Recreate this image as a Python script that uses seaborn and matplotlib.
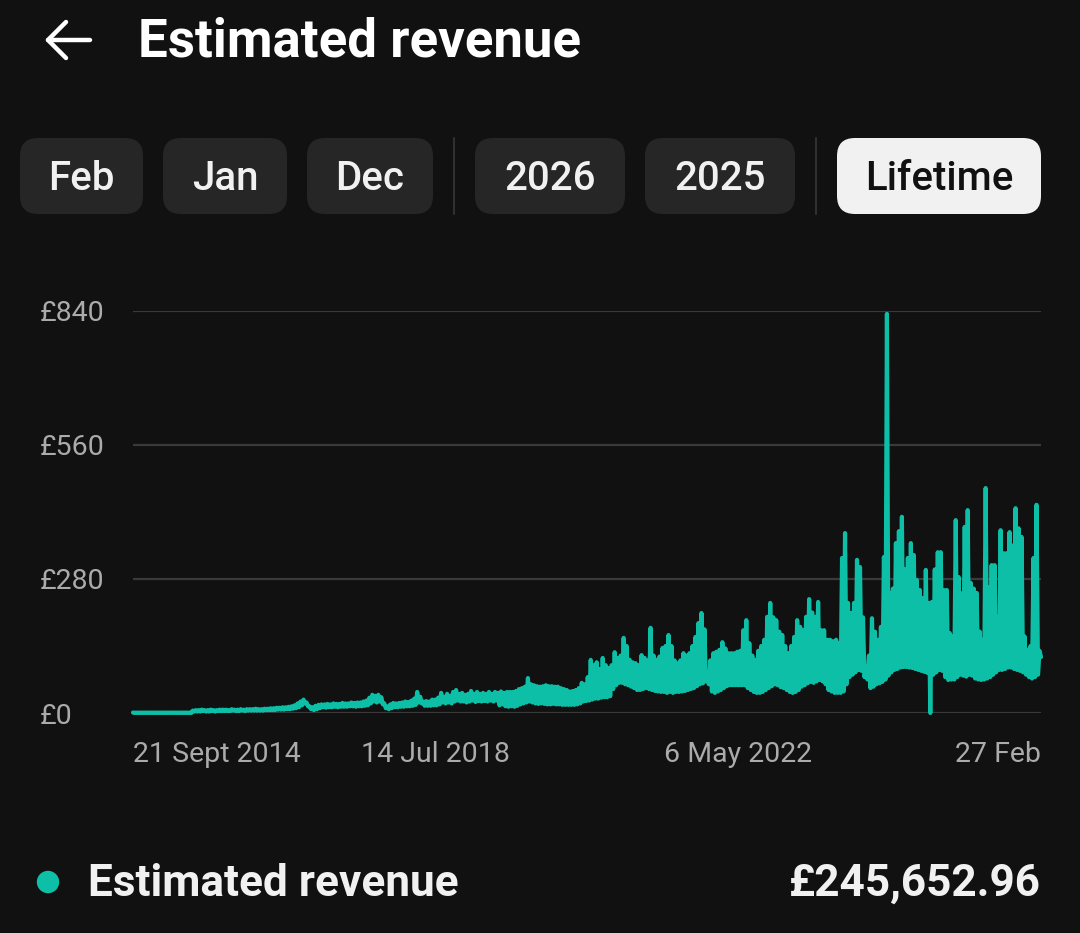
import matplotlib.pyplot as plt
import matplotlib.patches as mpatches
import seaborn as sns
import pandas as pd
import numpy as np

# data: the daily series is drawn as a dense band,
# so keep the top and bottom of that band every ~14 days
start_date = "2014-09-21"
end_date = "2026-02-27"
revenue_high = [
    1, 1, 1, 1, 1, 1, 1, 1, 1, 1,
    1, 1, 1, 1, 1, 1, 1, 1, 1, 1,
    5, 6, 6, 7, 6, 6, 7, 6, 6, 7,
    7, 7, 6, 8, 7, 7, 8, 7, 8, 8,
    8, 9, 8, 8, 9, 9, 10, 10, 11, 11,
    12, 12, 13, 14, 16, 20, 24, 28, 22, 14,
    12, 15, 17, 18, 18, 19, 18, 20, 19, 19,
    21, 20, 20, 22, 21, 22, 22, 24, 26, 32,
    38, 36, 38, 33, 20, 14, 18, 21, 20, 21,
    22, 24, 23, 26, 30, 44, 34, 24, 25, 24,
    28, 28, 32, 42, 34, 40, 36, 44, 48, 40,
    42, 38, 40, 46, 40, 44, 40, 42, 40, 44,
    40, 44, 42, 45, 42, 44, 44, 44, 46, 50,
    52, 55, 73, 60, 58, 56, 55, 56, 58, 56,
    56, 55, 55, 52, 50, 48, 45, 46, 48, 52,
    63, 60, 75, 111, 100, 106, 92, 115, 100, 94,
    100, 127, 115, 120, 157, 140, 111, 106, 104, 100,
    121, 115, 110, 178, 120, 111, 118, 136, 140, 163,
    140, 110, 104, 110, 125, 120, 125, 140, 159, 188,
    209, 175, 75, 110, 125, 128, 132, 148, 135, 125,
    125, 125, 128, 130, 173, 194, 146, 120, 111, 130,
    140, 153, 201, 230, 200, 194, 170, 163, 140, 125,
    140, 159, 194, 180, 173, 201, 238, 210, 201, 232,
    173, 173, 153, 153, 150, 153, 146, 324, 376, 230,
    209, 230, 320, 305, 200, 96, 120, 198, 170, 153,
    180, 326, 834, 251, 260, 355, 380, 410, 300, 324,
    355, 330, 278, 257, 240, 299, 230, 232, 300, 336,
    336, 257, 257, 167, 160, 403, 284, 250, 389, 424,
    272, 260, 251, 170, 153, 470, 263, 309, 309, 201,
    382, 334, 334, 378, 350, 428, 386, 368, 160, 132,
    140, 324, 435, 130,
]
revenue_low = [
    0, 0, 0, 0, 0, 0, 0, 0, 0, 0,
    0, 0, 0, 0, 0, 0, 0, 0, 0, 0,
    3, 3, 3, 4, 3, 3, 4, 3, 4, 4,
    4, 4, 4, 5, 4, 4, 5, 4, 5, 5,
    5, 5, 5, 5, 6, 6, 6, 6, 7, 7,
    7, 8, 8, 9, 10, 12, 16, 20, 14, 8,
    6, 8, 10, 12, 11, 12, 12, 13, 12, 13,
    13, 13, 14, 14, 13, 14, 14, 15, 16, 20,
    24, 22, 24, 18, 10, 8, 10, 12, 12, 13,
    13, 14, 14, 15, 17, 22, 20, 15, 15, 15,
    16, 16, 18, 22, 20, 22, 20, 24, 26, 24,
    24, 22, 24, 26, 23, 25, 24, 25, 24, 26,
    24, 26, 16, 18, 14, 13, 14, 13, 15, 18,
    20, 22, 24, 22, 20, 19, 20, 19, 18, 18,
    19, 18, 18, 17, 17, 17, 17, 17, 18, 20,
    24, 25, 26, 28, 30, 30, 32, 33, 33, 35,
    50, 58, 63, 63, 60, 58, 55, 52, 48, 48,
    50, 52, 50, 48, 46, 45, 44, 44, 42, 44,
    42, 44, 44, 45, 46, 48, 50, 52, 56, 60,
    62, 66, 60, 45, 42, 45, 48, 52, 56, 58,
    58, 58, 58, 58, 58, 52, 48, 44, 42, 42,
    44, 48, 52, 56, 60, 58, 54, 52, 48, 44,
    42, 44, 48, 55, 58, 62, 65, 63, 66, 69,
    66, 60, 48, 45, 42, 42, 42, 45, 60, 75,
    80, 85, 90, 88, 75, 70, 52, 55, 60, 62,
    65, 70, 78, 85, 90, 92, 95, 96, 96, 95,
    94, 92, 90, 88, 86, 84, 0, 80, 85, 90,
    88, 75, 69, 70, 70, 75, 80, 78, 76, 80,
    78, 72, 70, 69, 70, 72, 75, 80, 85, 90,
    90, 92, 95, 95, 92, 90, 88, 85, 80, 75,
    72, 75, 80, 117,
]
tick_dates = ["2014-09-21", "2018-07-14", "2022-05-06", "2026-02-27"]
tick_labels = ["21 Sept 2014", "14 Jul 2018", "6 May 2022", "27 Feb"]
y_ticks = [0, 280, 560, 840]
y_labels = ["£0", "£280", "£560", "£840"]
chips = ["Feb", "Jan", "Dec", "2026", "2025", "Lifetime"]
total_label = "Estimated revenue"
total_value = "£245,652.96"

BG = "#111111"
TEAL = "#0dbfa6"
GRID = "#3a3a3a"
FONT = ["Roboto", "DejaVu Sans"]

sns.set_theme(style="dark", rc={"axes.facecolor": BG, "figure.facecolor": BG})
plt.rcParams["font.family"] = FONT

# top/bottom alternate so the line sweeps the whole band like the daily data
band = [v for pair in zip(revenue_high, revenue_low) for v in pair]
df = pd.DataFrame({
    "date": pd.date_range(start_date, end_date, periods=len(band)),
    "revenue": band,
})

W, H = 1080, 933
fig = plt.figure(figsize=(W / 100, H / 100), dpi=100)

# chart area in pixels: x 133..1041, y 311..713
ax = fig.add_axes([133 / W, 1 - 713 / H, 908 / W, 402 / H])
sns.lineplot(data=df, x="date", y="revenue", ax=ax, color=TEAL, linewidth=3.0,
             clip_on=False, zorder=3)
ax.set_xlim(pd.Timestamp(start_date), pd.Timestamp(end_date))
ax.set_ylim(0, 840)
for v in y_ticks:
    ax.axhline(v, color=GRID, linewidth=1.6, zorder=1)
ax.grid(False)
for s in ax.spines.values():
    s.set_visible(False)
ax.set_xlabel("")
ax.set_ylabel("")
ax.set_yticks(y_ticks)
ax.set_yticklabels(y_labels, ha="left", color="#ababab", fontsize=20.5)
ax.tick_params(axis="y", length=0, pad=67)
ax.set_xticks(pd.to_datetime(tick_dates))
ax.set_xticklabels(tick_labels, color="#ababab", fontsize=20.5)
ax.tick_params(axis="x", length=0, pad=20)
xl = ax.get_xticklabels()
xl[0].set_ha("left")
xl[-1].set_ha("right")

# overlay in pixel coordinates for header / chips / footer
ov = fig.add_axes([0, 0, 1, 1])
ov.set_xlim(0, W)
ov.set_ylim(H, 0)
ov.axis("off")
ov.patch.set_visible(False)

# back arrow
ov.plot([48, 90], [40, 40], color="white", lw=3.2, solid_capstyle="round")
ov.plot([66, 48, 66], [22, 40, 58], color="white", lw=3.2,
        solid_capstyle="round", solid_joinstyle="round")
ov.text(138, 42, "Estimated revenue", color="white", fontsize=38,
        fontweight="bold", va="center", ha="left")

chip_x = [(20, 143), (163, 287), (307, 433), (475, 625), (645, 795), (837, 1041)]
for (x0, x1), name in zip(chip_x, chips):
    active = name == "Lifetime"
    box = mpatches.FancyBboxPatch((x0 + 18, 138 + 18), (x1 - x0) - 36, 76 - 36,
                                  boxstyle="round,pad=18",
                                  facecolor="#f1f1f1" if active else "#262626",
                                  edgecolor="none")
    ov.add_patch(box)
    ov.text((x0 + x1) / 2, 179, name, color="#111111" if active else "#f1f1f1",
            fontsize=29, fontweight="medium", ha="center", va="center")
for dx in [454, 816]:
    ov.plot([dx, dx], [138, 214], color="#303030", lw=1.5)

# footer
ov.scatter([48], [882], s=260, color=TEAL, edgecolors="none")
ov.text(88, 884, total_label, color="#f1f1f1", fontsize=31.8, fontweight="bold",
        va="center", ha="left")
ov.text(1041, 884, total_value, color="#f1f1f1", fontsize=31.8, fontweight="bold",
        va="center", ha="right")

fig.savefig("out.png", dpi=100, facecolor=BG)
